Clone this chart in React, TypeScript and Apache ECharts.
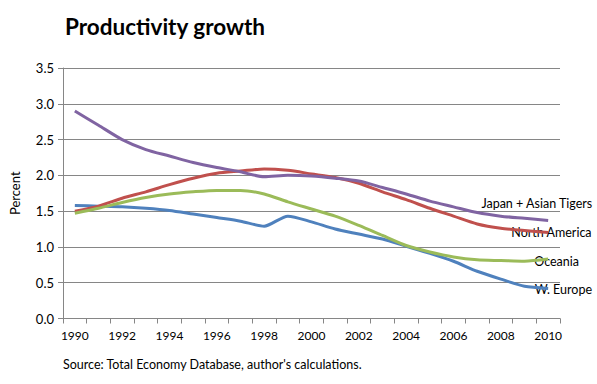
import React, { useEffect, useRef } from "react";
import * as echarts from "echarts";

const years = ["1990","1991","1992","1993","1994","1995","1996","1997","1998","1999","2000","2001","2002","2003","2004","2005","2006","2007","2008","2009","2010"];
const japanAsianTigers = [2.90, 2.70, 2.50, 2.36, 2.27, 2.18, 2.11, 2.05, 1.98, 2.00, 1.99, 1.96, 1.92, 1.83, 1.74, 1.64, 1.56, 1.48, 1.43, 1.40, 1.37];
const northAmerica = [1.50, 1.57, 1.68, 1.77, 1.87, 1.96, 2.03, 2.06, 2.09, 2.07, 2.02, 1.97, 1.89, 1.77, 1.66, 1.54, 1.43, 1.32, 1.26, 1.23, 1.20];
const oceania = [1.47, 1.54, 1.62, 1.69, 1.74, 1.77, 1.79, 1.79, 1.74, 1.63, 1.53, 1.43, 1.30, 1.16, 1.02, 0.93, 0.86, 0.82, 0.81, 0.80, 0.83];
const wEurope = [1.58, 1.57, 1.56, 1.54, 1.51, 1.46, 1.41, 1.36, 1.29, 1.43, 1.35, 1.25, 1.18, 1.11, 1.01, 0.91, 0.80, 0.66, 0.55, 0.45, 0.42];
const yTicks = ["0.0", "0.5", "1.0", "1.5", "2.0", "2.5", "3.0", "3.5"];

const FONT = "Lato, 'Open Sans', sans-serif";
const GRAY = "#868686";

export default function App() {
  const ref = useRef<HTMLDivElement>(null);
  useEffect(() => {
    if (!ref.current) return;
    const chart = echarts.init(ref.current, null, { renderer: "svg" });
    const mk = (name: string, data: number[], color: string) => ({
      name,
      type: "line",
      data,
      smooth: 0.25,
      symbol: "none",
      lineStyle: { color, width: 3 },
      itemStyle: { color },
    });
    chart.setOption({
      animation: false,
      backgroundColor: "#ffffff",
      textStyle: { fontFamily: FONT },
      title: {
        text: "Productivity growth",
        left: 60,
        top: 10,
        textStyle: { fontFamily: FONT, fontSize: 22.5, fontWeight: "bold", color: "#000" },
      },
      grid: { left: 61, right: 37, top: 68, bottom: 65.5, containLabel: false },
      xAxis: {
        type: "category",
        data: years,
        boundaryGap: true,
        axisLine: { show: true, lineStyle: { color: GRAY, width: 1 } },
        axisTick: { show: true, interval: 0, length: 5, lineStyle: { color: GRAY } },
        axisLabel: { interval: 1, color: "#000", fontSize: 12, fontFamily: FONT, margin: 11 },
        splitLine: { show: false },
      },
      yAxis: {
        type: "value",
        min: 0,
        max: 3.5,
        interval: 0.5,
        name: "Percent",
        nameLocation: "middle",
        nameGap: 42,
        nameRotate: 90,
        nameTextStyle: { color: "#000", fontSize: 13, fontFamily: FONT },
        axisLine: { show: true, lineStyle: { color: GRAY, width: 1 } },
        axisTick: { show: true, length: 5, lineStyle: { color: GRAY } },
        axisLabel: {
          color: "#000",
          fontSize: 13,
          fontFamily: FONT,
          margin: 9,
          formatter: (v: number) => yTicks[Math.round(v / 0.5)] ?? v.toFixed(1),
        },
        splitLine: { show: true, lineStyle: { color: GRAY, width: 1 } },
      },
      series: [
        mk("W. Europe", wEurope, "#4F81BD"),
        mk("North America", northAmerica, "#C0504D"),
        mk("Oceania", oceania, "#9BBB59"),
        mk("Japan + Asian Tigers", japanAsianTigers, "#8064A2"),
      ],
      graphic: [
        { type: "text", right: 4, top: 197, style: { text: "Japan + Asian Tigers", font: `12.5px ${FONT}`, fill: "#000" } },
        { type: "text", right: 5, top: 226, style: { text: "North America", font: `12.5px ${FONT}`, fill: "#000" } },
        { type: "text", right: 18, top: 255, style: { text: "Oceania", font: `12.5px ${FONT}`, fill: "#000" } },
        { type: "text", right: 5, top: 283, style: { text: "W. Europe", font: `12.5px ${FONT}`, fill: "#000" } },
        { type: "text", left: 63, top: 358, style: { text: "Source: Total Economy Database, author's calculations.", font: `12.5px ${FONT}`, fill: "#000" } },
      ],
    });
    return () => chart.dispose();
  }, []);
  return <div ref={ref} style={{ width: 597, height: 384, position: "absolute", left: 0, top: 0 }} />;
}
